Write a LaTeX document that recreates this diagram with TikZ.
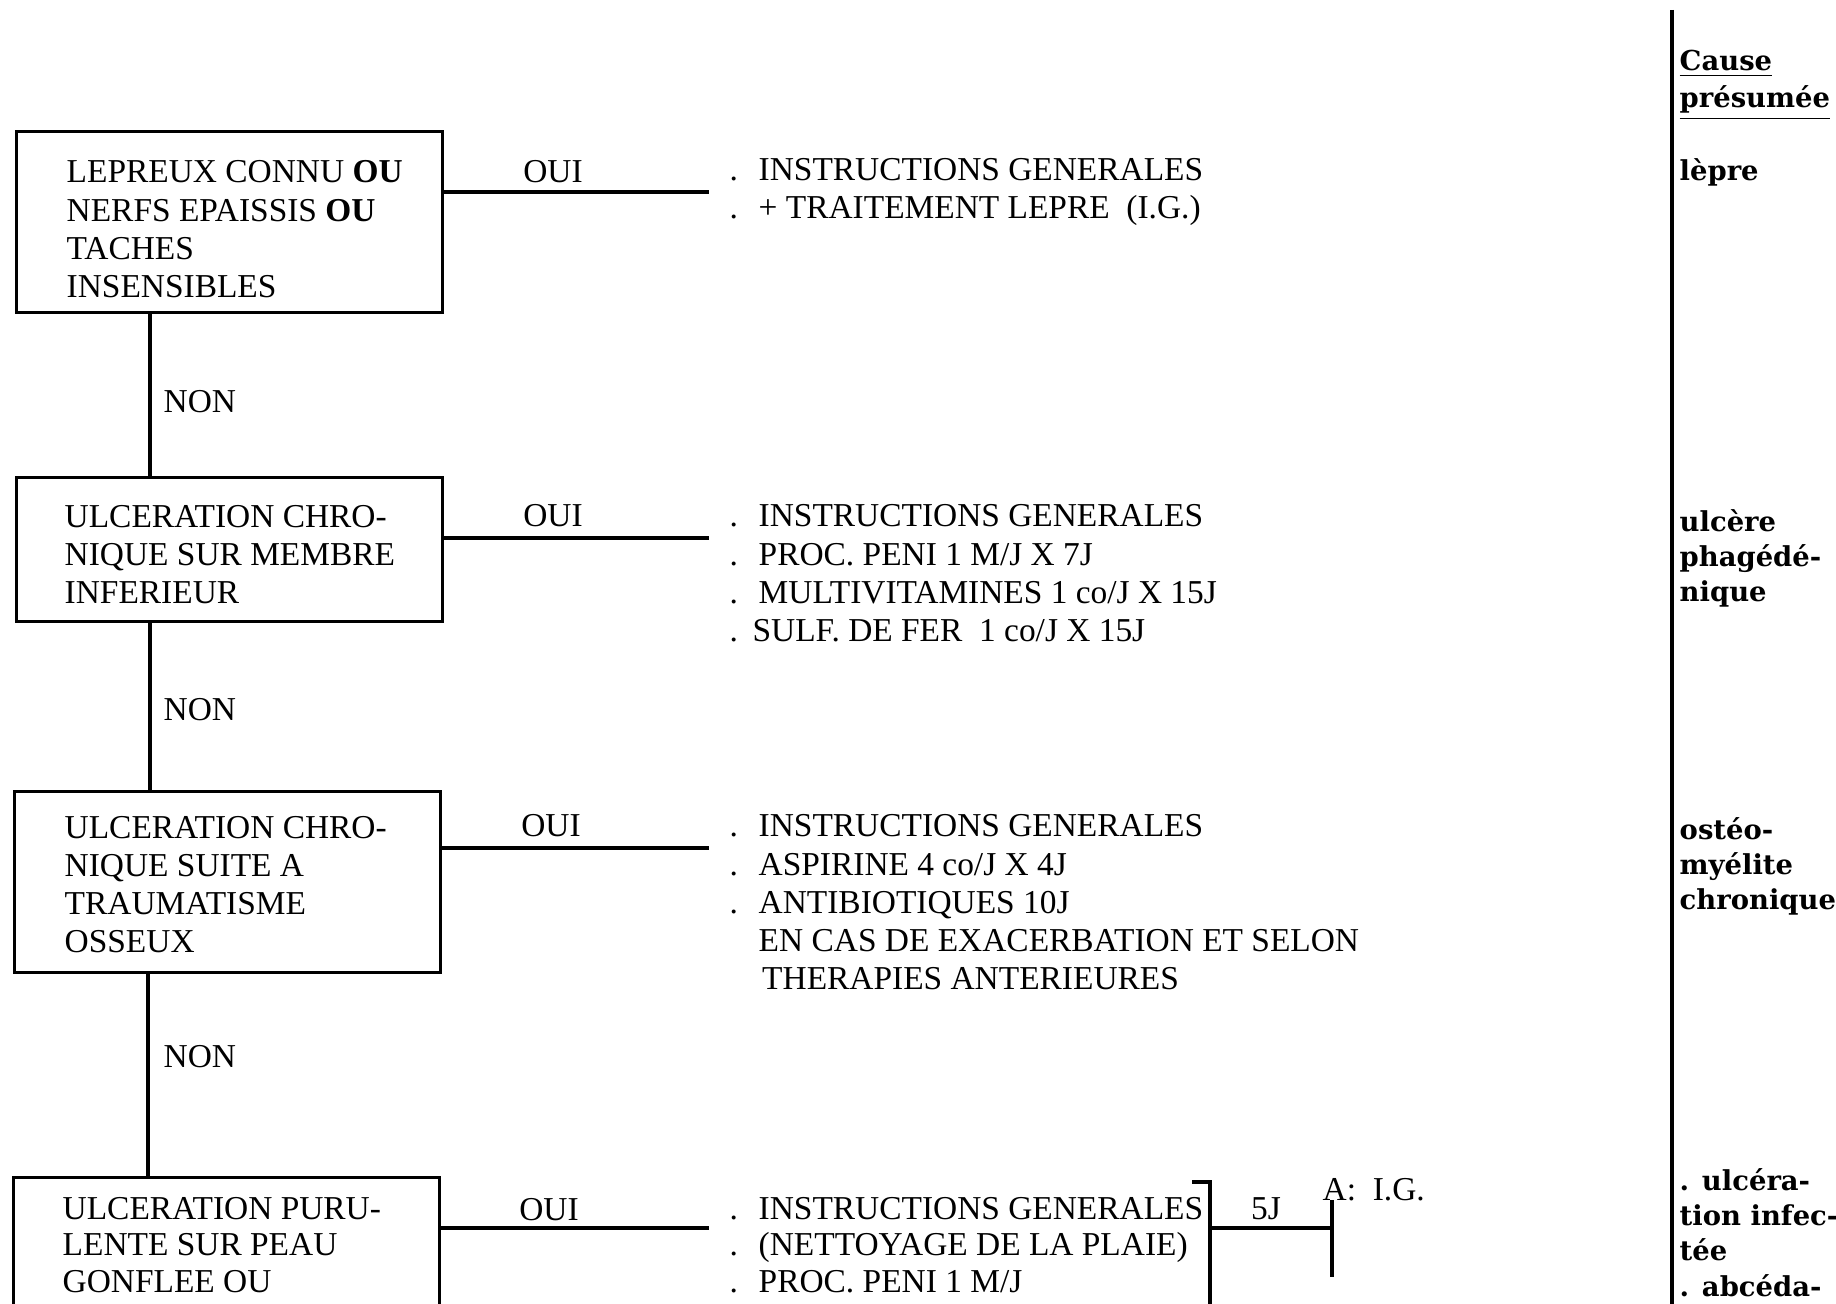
\documentclass[tikz,border=0pt]{standalone}
\usepackage{fontspec}
\setmainfont{Liberation Serif}
\newfontfamily\causefont{DejaVu Serif}
\newcommand{\dl}{\makebox[8.25pt][l]{.}}
\newcommand{\nd}{\hspace*{8.25pt}}
\begin{document}
\begin{tikzpicture}[x=0.01cm,y=-0.01cm,
  box/.style={draw, line width=0.9pt, inner sep=0pt, minimum width=4.26cm, anchor=north west},
  conn/.style={line width=0.9pt},
  txt/.style={anchor=base west, inner sep=0pt, align=left, font=\fontsize{9.5}{10.9}\selectfont},
  lab/.style={anchor=base, inner sep=0pt, font=\fontsize{9.5}{10.9}\selectfont},
  cause/.style={anchor=base west, inner sep=0pt, align=left, font=\causefont\bfseries\fontsize{7.8}{9.96}\selectfont}]
\clip (0,0) rectangle (1836,1304);
% boxes
\node[box, minimum height=1.81cm] (b1) at (15,130) {};
\node[box, minimum height=1.44cm] (b2) at (15,476) {};
\node[box, minimum height=1.81cm] (b3) at (13,790) {};
\node[box, minimum height=2.4cm] (b4) at (12,1176) {};
% box texts (base anchor = last line)
\node[txt] (q1) at (66,298) {LEPREUX CONNU \textbf{OU}\\NERFS EPAISSIS \textbf{OU}\\TACHES\\INSENSIBLES};
\node[txt] (q2) at (64,604) {ULCERATION CHRO-\\NIQUE SUR MEMBRE\\INFERIEUR};
\node[txt] (q3) at (64,953) {ULCERATION CHRO-\\NIQUE SUITE A\\TRAUMATISME\\OSSEUX};
\node[txt, font=\fontsize{9.5}{10.3}\selectfont] (q4) at (62,1292) {ULCERATION PURU-\\LENTE SUR PEAU\\GONFLEE OU};
% vertical NON connectors
\coordinate (v) at (150,0);
\draw[conn] (b1.south -| v) -- (b2.north -| v);
\draw[conn] (b2.south -| v) -- (b3.north -| v);
\coordinate (w) at (148,0);
\draw[conn] (b3.south -| w) -- (b4.north -| w);
\node[txt] (n1) at (163,413) {NON};
\node[txt] (n2) at (163,721) {NON};
\node[txt] (n3) at (163,1068) {NON};
% OUI connectors
\coordinate (o1) at (709,192);
\coordinate (o2) at (709,538);
\coordinate (o3) at (709,848);
\coordinate (o4) at (709,1228);
\draw[conn] (o1 -| b1.east) -- (o1);
\draw[conn] (o2 -| b2.east) -- (o2);
\draw[conn] (o3 -| b3.east) -- (o3);
\draw[conn] (o4 -| b4.east) -- (o4);
\node[lab] (y1) at (553,183) {OUI};
\node[lab] (y2) at (553,527) {OUI};
\node[lab] (y3) at (551,837) {OUI};
\node[lab] (y4) at (549,1220) {OUI};
% treatments
\node[txt] (t1) at (729,219) {\dl INSTRUCTIONS GENERALES\\\dl + TRAITEMENT LEPRE \ (I.G.)};
\node[txt] (t2) at (729,642) {\dl INSTRUCTIONS GENERALES\\\dl PROC. PENI 1 M/J X 7J\\\dl MULTIVITAMINES 1 co/J X 15J\\\makebox[6.5pt][l]{.}SULF. DE FER \ 1 co/J X 15J};
\node[txt] (t3) at (729,990) {\dl INSTRUCTIONS GENERALES\\\dl ASPIRINE 4 co/J X 4J\\\dl ANTIBIOTIQUES 10J\\\nd EN CAS DE EXACERBATION ET SELON\\\nd\hspace{1pt}THERAPIES ANTERIEURES};
\node[txt, font=\fontsize{9.5}{10.3}\selectfont] (t4) at (729,1292) {\dl INSTRUCTIONS GENERALES\\\dl (NETTOYAGE DE LA PLAIE)\\\dl PROC. PENI 1 M/J};
% bracket 5J
\coordinate (k1) at (1192,1182);
\coordinate (k2) at (1210,1182);
\coordinate (k3) at (1210,1320);
\draw[conn] (k1) -- (k2) -- (k3);
\coordinate (j1) at (1332,1200);
\coordinate (j2) at (1332,1277);
\draw[conn] (j1) -- (j2);
\draw[conn] (k2 |- o4) -- (j1 |- o4);
\node[lab] (fj) at (1266,1219) {5J};
\node[txt] (ag) at (1322,1200) {A: \ I.G.};
% right column
\coordinate (rt) at (1672,10);
\coordinate (rb) at (1672,1320);
\draw[line width=1pt] (rt) -- (rb);
\node[cause, font=\causefont\bfseries\fontsize{7.8}{10.8}\selectfont] (c0) at (1679,108) {\underline{Cause}\\\underline{présumée}};
\node[cause] (c1) at (1679,181) {lèpre};
\node[cause] (c2) at (1679,602) {ulcère\\phagédé-\\nique};
\node[cause] (c3) at (1679,910) {ostéo-\\myélite\\chronique};
\node[cause] (c4) at (1679,1296) {. ulcéra-\\tion infec-\\tée\\. abcéda-};
\end{tikzpicture}
\end{document}
